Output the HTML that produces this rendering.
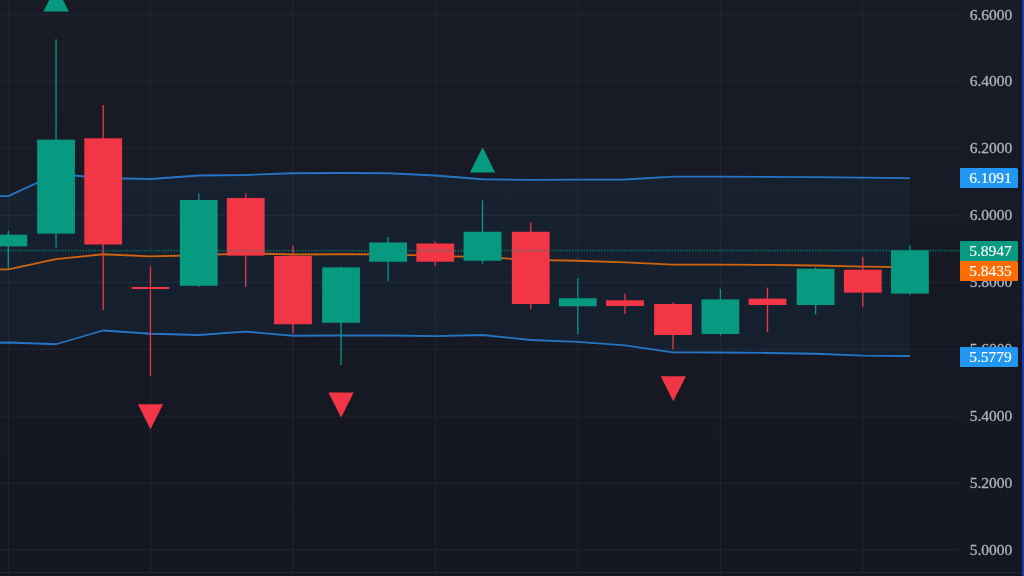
<!DOCTYPE html>
<html><head><meta charset="utf-8"><style>
html,body{margin:0;padding:0;width:1024px;height:576px;overflow:hidden;background:#161a25;}
svg{position:absolute;left:0;top:0;}
.pl{will-change:transform;position:absolute;left:960px;width:62px;height:20px;line-height:20px;text-align:center;color:#b2b5be;-webkit-text-stroke:0.3px #b2b5be;font-family:"Liberation Serif",serif;font-size:15.5px;}
.bx{will-change:transform;position:absolute;left:959.6px;width:58.4px;padding-left:2.6px;box-sizing:border-box;color:#fff;-webkit-text-stroke:0.15px #fff;text-align:center;font-family:"Liberation Serif",serif;font-size:15.5px;border-radius:0 1.5px 1.5px 0;}
.strip{position:absolute;left:1022px;top:0;width:2px;height:576px;background:#173ca8;}
</style></head><body>
<svg width="1024" height="576" viewBox="0 0 1024 576">
<defs><linearGradient id="bg" x1="0" y1="0" x2="0" y2="1"><stop offset="0" stop-color="#191c27"/><stop offset="1" stop-color="#141722"/></linearGradient></defs>
<rect x="0" y="0" width="1024" height="576" fill="url(#bg)"/>
<line x1="0" y1="14.50" x2="959" y2="14.50" stroke="#222632" stroke-width="1"/>
<line x1="0" y1="81.44" x2="959" y2="81.44" stroke="#222632" stroke-width="1"/>
<line x1="0" y1="148.38" x2="959" y2="148.38" stroke="#222632" stroke-width="1"/>
<line x1="0" y1="215.32" x2="959" y2="215.32" stroke="#222632" stroke-width="1"/>
<line x1="0" y1="282.26" x2="959" y2="282.26" stroke="#222632" stroke-width="1"/>
<line x1="0" y1="349.20" x2="959" y2="349.20" stroke="#222632" stroke-width="1"/>
<line x1="0" y1="416.14" x2="959" y2="416.14" stroke="#222632" stroke-width="1"/>
<line x1="0" y1="483.08" x2="959" y2="483.08" stroke="#222632" stroke-width="1"/>
<line x1="0" y1="550.02" x2="959" y2="550.02" stroke="#222632" stroke-width="1"/>
<line x1="8.30" y1="0" x2="8.30" y2="572" stroke="#222632" stroke-width="1"/>
<line x1="150.45" y1="0" x2="150.45" y2="572" stroke="#222632" stroke-width="1"/>
<line x1="293.00" y1="0" x2="293.00" y2="572" stroke="#222632" stroke-width="1"/>
<line x1="435.30" y1="0" x2="435.30" y2="572" stroke="#222632" stroke-width="1"/>
<line x1="577.80" y1="0" x2="577.80" y2="572" stroke="#222632" stroke-width="1"/>
<line x1="720.40" y1="0" x2="720.40" y2="572" stroke="#222632" stroke-width="1"/>
<line x1="862.80" y1="0" x2="862.80" y2="572" stroke="#222632" stroke-width="1"/>
<line x1="0" y1="572.5" x2="1022" y2="572.5" stroke="#222632" stroke-width="1"/>
<polygon points="-39.04,196.70 8.30,196.10 56.05,174.00 103.20,178.00 150.45,179.00 198.75,175.50 245.75,175.00 293.00,173.25 341.05,173.00 388.10,173.25 435.30,175.50 482.50,179.25 530.75,179.80 577.80,179.70 625.00,179.50 673.00,176.70 720.40,176.70 767.50,176.90 815.60,177.20 862.80,177.60 909.90,178.20 909.90,356.00 862.80,355.60 815.60,353.75 767.50,353.00 720.40,352.50 673.00,352.40 625.00,345.40 577.80,341.80 530.75,340.00 482.50,335.00 435.30,336.20 388.10,335.50 341.05,335.50 293.00,335.75 245.75,331.60 198.75,335.00 150.45,333.75 103.20,330.50 56.05,344.25 8.30,342.50 -39.04,343.80" fill="rgba(33,150,243,0.05)"/>
<polyline points="-39.04,196.70 8.30,196.10 56.05,174.00 103.20,178.00 150.45,179.00 198.75,175.50 245.75,175.00 293.00,173.25 341.05,173.00 388.10,173.25 435.30,175.50 482.50,179.25 530.75,179.80 577.80,179.70 625.00,179.50 673.00,176.70 720.40,176.70 767.50,176.90 815.60,177.20 862.80,177.60 909.90,178.20" fill="none" stroke="#2575c4" stroke-width="1.8" stroke-linejoin="round"/>
<polyline points="-39.04,343.80 8.30,342.50 56.05,344.25 103.20,330.50 150.45,333.75 198.75,335.00 245.75,331.60 293.00,335.75 341.05,335.50 388.10,335.50 435.30,336.20 482.50,335.00 530.75,340.00 577.80,341.80 625.00,345.40 673.00,352.40 720.40,352.50 767.50,353.00 815.60,353.75 862.80,355.60 909.90,356.00" fill="none" stroke="#2575c4" stroke-width="1.8" stroke-linejoin="round"/>
<polyline points="-39.04,270.25 8.30,269.30 56.05,259.12 103.20,254.25 150.45,256.38 198.75,255.25 245.75,253.30 293.00,254.50 341.05,254.25 388.10,254.38 435.30,255.85 482.50,257.12 530.75,259.90 577.80,260.75 625.00,262.45 673.00,264.55 720.40,264.60 767.50,264.95 815.60,265.48 862.80,266.60 909.90,267.10" fill="none" stroke="#d0640f" stroke-width="1.8" stroke-linejoin="round"/>
<rect x="7.65" y="231" width="1.3" height="37.00" fill="#089981"/>
<rect x="-10.60" y="234.7" width="37.8" height="11.70" fill="#089981"/>
<rect x="55.40" y="39.25" width="1.3" height="208.15" fill="#089981"/>
<rect x="37.15" y="139.6" width="37.8" height="94.00" fill="#089981"/>
<rect x="102.55" y="105" width="1.3" height="205.00" fill="#f23645"/>
<rect x="84.30" y="138.3" width="37.8" height="106.20" fill="#f23645"/>
<rect x="149.80" y="266.25" width="1.3" height="110.00" fill="#f23645"/>
<rect x="131.55" y="287" width="37.8" height="2.00" fill="#f23645"/>
<rect x="198.10" y="193.25" width="1.3" height="93.50" fill="#089981"/>
<rect x="179.85" y="200" width="37.8" height="85.75" fill="#089981"/>
<rect x="245.10" y="193.25" width="1.3" height="93.75" fill="#f23645"/>
<rect x="226.85" y="198" width="37.8" height="57.60" fill="#f23645"/>
<rect x="292.35" y="245.5" width="1.3" height="87.75" fill="#f23645"/>
<rect x="274.10" y="256" width="37.8" height="68.25" fill="#f23645"/>
<rect x="340.40" y="266.4" width="1.3" height="98.60" fill="#089981"/>
<rect x="322.15" y="267.4" width="37.8" height="55.35" fill="#089981"/>
<rect x="387.45" y="237" width="1.3" height="44.25" fill="#089981"/>
<rect x="369.20" y="242.5" width="37.8" height="19.25" fill="#089981"/>
<rect x="434.65" y="241.5" width="1.3" height="24.10" fill="#f23645"/>
<rect x="416.40" y="243.5" width="37.8" height="18.25" fill="#f23645"/>
<rect x="481.85" y="200.5" width="1.3" height="63.25" fill="#089981"/>
<rect x="463.60" y="231.75" width="37.8" height="29.00" fill="#089981"/>
<rect x="530.10" y="222.5" width="1.3" height="86.75" fill="#f23645"/>
<rect x="511.85" y="231.75" width="37.8" height="72.25" fill="#f23645"/>
<rect x="577.15" y="278.25" width="1.3" height="56.00" fill="#089981"/>
<rect x="558.90" y="298.25" width="37.8" height="8.00" fill="#089981"/>
<rect x="624.35" y="293.75" width="1.3" height="20.00" fill="#f23645"/>
<rect x="606.10" y="300.25" width="37.8" height="5.75" fill="#f23645"/>
<rect x="672.35" y="302.5" width="1.3" height="46.90" fill="#f23645"/>
<rect x="654.10" y="304" width="37.8" height="31.00" fill="#f23645"/>
<rect x="719.75" y="288.75" width="1.3" height="46.85" fill="#089981"/>
<rect x="701.50" y="299.4" width="37.8" height="34.60" fill="#089981"/>
<rect x="766.85" y="287.6" width="1.3" height="44.60" fill="#f23645"/>
<rect x="748.60" y="298.6" width="37.8" height="6.40" fill="#f23645"/>
<rect x="814.95" y="267.2" width="1.3" height="47.30" fill="#089981"/>
<rect x="796.70" y="268.75" width="37.8" height="36.25" fill="#089981"/>
<rect x="862.15" y="256.9" width="1.3" height="50.30" fill="#f23645"/>
<rect x="843.90" y="269.7" width="37.8" height="22.90" fill="#f23645"/>
<rect x="909.25" y="245.3" width="1.3" height="49.90" fill="#089981"/>
<rect x="891.00" y="250.3" width="37.8" height="43.30" fill="#089981"/>
<line x1="0.5" y1="250.56" x2="960" y2="250.56" stroke="#089981" stroke-opacity="0.6" stroke-width="1.8" stroke-dasharray="1.5 1.43"/>
<polygon points="56.10,-13.75 68.75,11.45 43.45,11.45" fill="#089981"/>
<polygon points="482.55,147.2 495.20,172.39999999999998 469.90,172.39999999999998" fill="#089981"/>
<polygon points="137.90,404.2 163.10,404.2 150.50,429.2" fill="#f23645"/>
<polygon points="328.50,392.6 353.70,392.6 341.10,417.6" fill="#f23645"/>
<polygon points="660.70,376.3 685.90,376.3 673.30,401.3" fill="#f23645"/>
</svg>
<div class="pl" style="top:4.50px">6.6000</div>
<div class="pl" style="top:71.44px">6.4000</div>
<div class="pl" style="top:138.38px">6.2000</div>
<div class="pl" style="top:205.32px">6.0000</div>
<div class="pl" style="top:272.26px">5.8000</div>
<div class="pl" style="top:339.20px">5.6000</div>
<div class="pl" style="top:406.14px">5.4000</div>
<div class="pl" style="top:473.08px">5.2000</div>
<div class="pl" style="top:540.02px">5.0000</div>
<div class="bx" style="top:168.2px;height:20.30px;background:#2196f3;line-height:19.90px">6.1091</div>
<div class="bx" style="top:240.7px;height:20.00px;background:#089981;line-height:19.60px">5.8947</div>
<div class="bx" style="top:260.7px;height:20.30px;background:#ff6d00;line-height:19.90px">5.8435</div>
<div class="bx" style="top:346.8px;height:19.90px;background:#2196f3;line-height:19.50px">5.5779</div>
<div class="strip"></div>
</body></html>
